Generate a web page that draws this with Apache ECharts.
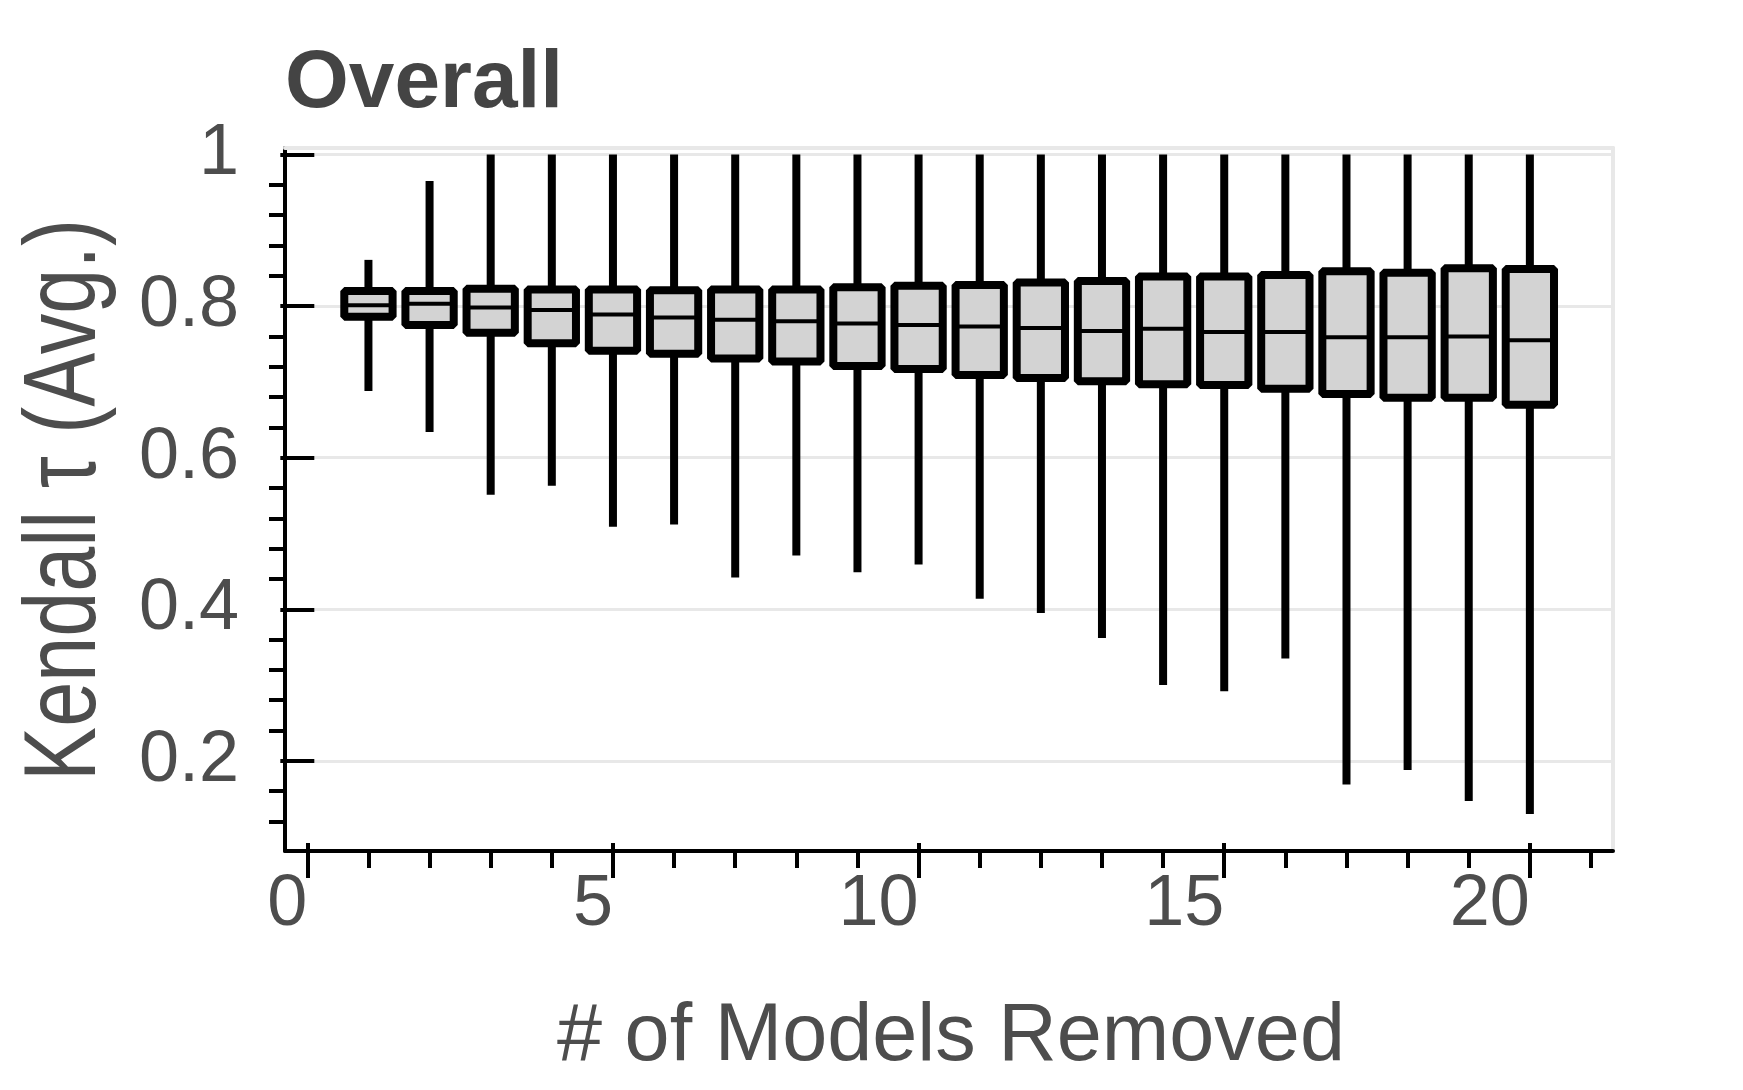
<!DOCTYPE html>
<html><head><meta charset="utf-8">
<script src="https://cdn.jsdelivr.net/npm/echarts@6/dist/echarts.min.js"></script>
<style>html,body{margin:0;padding:0;background:#fff}#c{width:1743px;height:1090px}</style>
</head><body><div id="c"></div>
<script>
// ---- data ----
const modelsRemoved = [1,2,3,4,5,6,7,8,9,10,11,12,13,14,15,16,17,18,19,20];
const whiskerLow  = [0.688,0.634,0.551,0.563,0.509,0.512,0.442,0.471,0.449,0.459,0.414,0.395,0.362,0.300,0.292,0.335,0.169,0.188,0.147,0.130];
const q1          = [0.786,0.775,0.765,0.751,0.741,0.737,0.731,0.727,0.721,0.717,0.709,0.705,0.701,0.697,0.696,0.691,0.684,0.679,0.679,0.670];
const median      = [0.801,0.803,0.798,0.795,0.789,0.785,0.782,0.780,0.777,0.775,0.773,0.771,0.767,0.770,0.766,0.766,0.759,0.759,0.760,0.755];
const q3          = [0.820,0.820,0.823,0.822,0.822,0.821,0.822,0.822,0.825,0.827,0.828,0.831,0.833,0.839,0.839,0.841,0.846,0.844,0.850,0.849];
const whiskerHigh = [0.861,0.965,1,1,1,1,1,1,1,1,1,1,1,1,1,1,1,1,1,1];
const xMajorTicks = [0,5,10,15,20];
const xMinorTicks = [1,2,3,4,6,7,8,9,11,12,13,14,16,17,18,19,21];
const yMajorTicks = [0.2,0.4,0.6,0.8,1];
const yMinorTicks = [0.12,0.16,0.24,0.28,0.32,0.36,0.44,0.48,0.52,0.56,0.64,0.68,0.72,0.76,0.84,0.88,0.92,0.96];

const X_MIN = -0.365, X_MAX = 21.36, Y_MIN = 0.0811, Y_MAX = 1.0086;
const BOX_WIDTH = 0.79;
const FONT = 'Liberation Sans, Arial, Helvetica, sans-serif';
const TXT = '#4d4d4d';
const GRIDC = '#e8e8e8';

const chart = echarts.init(document.getElementById('c'), null, {renderer:'canvas'});

function xAx(extra){ return Object.assign({type:'value', min:X_MIN, max:X_MAX, position:'bottom',
  axisLine:{show:false}, axisTick:{show:false}, axisLabel:{show:false}, splitLine:{show:false}}, extra); }
function yAx(extra){ return Object.assign({type:'value', min:Y_MIN, max:Y_MAX, position:'left',
  axisLine:{show:false}, axisTick:{show:false}, axisLabel:{show:false}, splitLine:{show:false}}, extra); }

const option = {
  animation:false,
  backgroundColor:'#fff',
  grid:{left:285, top:148, width:1328, height:703, containLabel:false},
  xAxis:[
    xAx({axisLine:{show:true,onZero:false,lineStyle:{color:'#000',width:4}},
         axisTick:{show:true,customValues:xMinorTicks,length:17,lineStyle:{color:'#000',width:4}}}),
    xAx({axisTick:{show:true,customValues:xMajorTicks,length:27,lineStyle:{color:'#000',width:4}},
         axisLabel:{show:true,customValues:xMajorTicks,align:'right',margin:18,fontSize:72,color:TXT,fontFamily:FONT}}),
    xAx({axisTick:{show:true,inside:true,customValues:xMajorTicks,length:8,lineStyle:{color:'#000',width:4}}}),
    xAx({position:'top',axisLine:{show:true,onZero:false,lineStyle:{color:GRIDC,width:4}}})
  ],
  yAxis:[
    yAx({axisLine:{show:true,onZero:false,lineStyle:{color:'#000',width:4}},
         axisTick:{show:true,customValues:yMinorTicks,length:16,lineStyle:{color:'#000',width:4}}}),
    yAx({axisTick:{show:true,customValues:yMajorTicks,length:27,lineStyle:{color:'#000',width:4}},
         axisLabel:{show:true,customValues:yMajorTicks,margin:46,fontSize:72,color:TXT,fontFamily:FONT},
         splitLine:{show:true,lineStyle:{color:GRIDC,width:3}}}),
    yAx({axisTick:{show:true,inside:true,customValues:yMajorTicks,length:7,lineStyle:{color:'#000',width:4}}}),
    yAx({position:'right',axisLine:{show:true,onZero:false,lineStyle:{color:GRIDC,width:4}}})
  ],
  graphic:[
    {type:'text', x:285, y:84, z:10,
     style:{text:'Overall', font:'bold 82px '+FONT, fill:'#444', align:'left', verticalAlign:'middle'}},
    {type:'text', x:951, y:1038, z:10,
     style:{text:'# of Models Removed', font:'81px '+FONT, fill:TXT, align:'center', verticalAlign:'middle'}},
    {type:'text', x:67, y:500, rotation:Math.PI/2, scaleY:1.25, z:10,
     style:{text:'Kendall τ (Avg.)', font:'81px '+FONT, fill:TXT, align:'center', verticalAlign:'middle'}}
  ],
  series:[{
    type:'custom',
    xAxisIndex:0, yAxisIndex:0,
    silent:true,
    data: modelsRemoved.map((x,i)=>[x, whiskerLow[i], q1[i], median[i], q3[i], whiskerHigh[i]]),
    encode:{x:0, y:[1,2,3,4,5]},
    renderItem:function(params, api){
      const x = api.value(0);
      const pLo = api.coord([x, api.value(1)]);
      const pQ1 = api.coord([x, api.value(2)]);
      const pMed = api.coord([x, api.value(3)]);
      const pQ3 = api.coord([x, api.value(4)]);
      const pHi = api.coord([x, api.value(5)]);
      const w = api.size([BOX_WIDTH, 0])[0];
      const ls = {stroke:'#000', lineWidth:8, fill:null};
      return {type:'group', children:[
        {type:'line', shape:{x1:pHi[0], y1:pHi[1], x2:pQ3[0], y2:pQ3[1]}, style:ls},
        {type:'line', shape:{x1:pQ1[0], y1:pQ1[1], x2:pLo[0], y2:pLo[1]}, style:ls},
        {type:'rect', shape:{x:pQ3[0]-w/2, y:pQ3[1], width:w, height:pQ1[1]-pQ3[1]},
         style:{fill:'#d3d3d3', stroke:'#000', lineWidth:8, lineJoin:'bevel'}},
        {type:'line', shape:{x1:pMed[0]-w/2, y1:pMed[1], x2:pMed[0]+w/2, y2:pMed[1]},
         style:{stroke:'#000', lineWidth:4}}
      ]};
    }
  }]
};
chart.setOption(option);
</script></body></html>
